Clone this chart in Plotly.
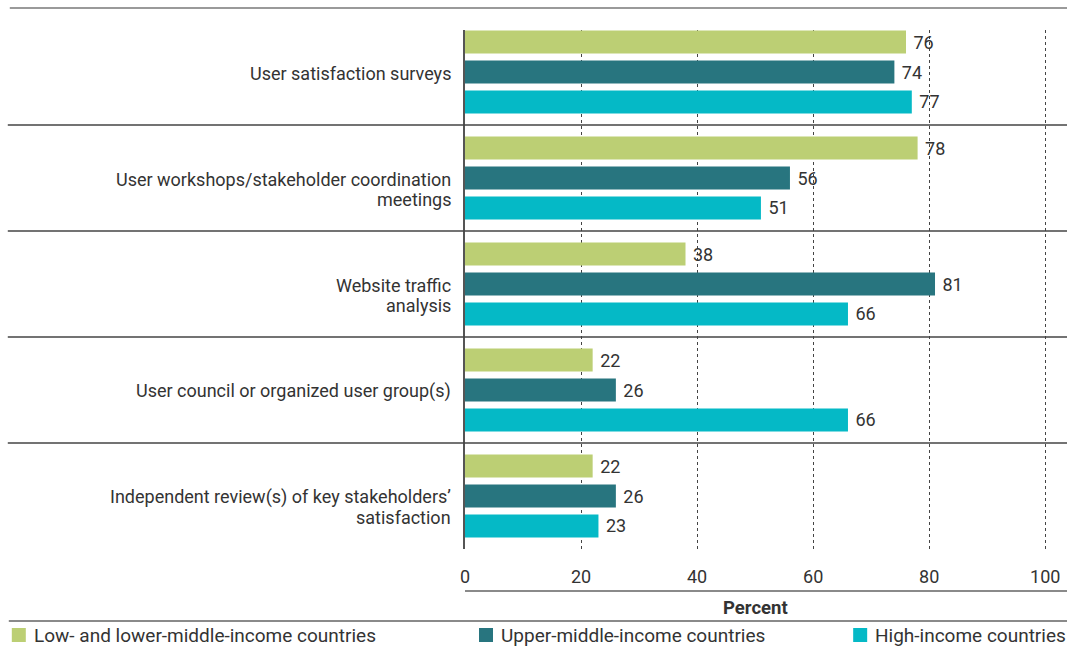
import plotly.graph_objects as go

# Survey answers: methods used to gauge user satisfaction (percent of respondents)
categories = [
    "User satisfaction surveys",
    "User workshops/stakeholder coordination<br>meetings",
    "Website traffic<br>analysis",
    "User council or organized user group(s)",
    "Independent review(s) of key stakeholders’<br>satisfaction",
]
series_names = [
    "Low- and lower-middle-income countries",
    "Upper-middle-income countries",
    "High-income countries",
]
low_lower_middle = [76, 78, 38, 22, 22]
upper_middle = [74, 56, 81, 26, 26]
high_income = [77, 51, 66, 66, 23]
x_ticks = [0, 20, 40, 60, 80, 100]

colors = ["#BCCF74", "#28757F", "#05B9C6"]
values = [low_lower_middle, upper_middle, high_income]
FONT = "Roboto"
TXT = "#333333"

fig = go.Figure()
for name, vals, col in zip(series_names, values, colors):
    fig.add_trace(go.Bar(
        y=categories, x=vals, name=name, orientation="h",
        marker=dict(color=col, line=dict(width=0)),
        text=["\u00a0" + str(v) for v in vals], textposition="outside",
        textfont=dict(family=FONT, size=18, color=TXT),
        cliponaxis=False, showlegend=False,
    ))

W, H = 1067, 646
X_MAX = 100.3
L, T, B = 465, 30, 97
pw = 580 * X_MAX / 100
R = W - L - pw
ph = H - T - B

def px_x(p):
    return (p - L) / pw

def px_y(p):
    return (H - B - p) / ph

shapes = []
# top rule
shapes.append(dict(type="line", xref="paper", yref="paper",
                   x0=px_x(10), x1=px_x(1067), y0=px_y(8), y1=px_y(8),
                   line=dict(color="#9a9a9a", width=2)))
# separators between groups
for k in range(len(categories) - 1):
    shapes.append(dict(type="line", xref="paper", yref="y",
                       x0=px_x(8), x1=px_x(1067), y0=k + 0.5, y1=k + 0.5,
                       line=dict(color="#444444", width=1.5)))
# rule under tick labels
shapes.append(dict(type="line", xref="paper", yref="paper",
                   x0=px_x(465), x1=px_x(1067), y0=px_y(591), y1=px_y(591),
                   line=dict(color="#8a8a8a", width=2)))
# rule above legend
shapes.append(dict(type="line", xref="paper", yref="paper",
                   x0=px_x(9), x1=px_x(1067), y0=px_y(621), y1=px_y(621),
                   line=dict(color="#8a8a8a", width=2)))

annotations = [dict(text="<b>Percent</b>", xref="paper", yref="paper",
                    x=px_x(755), y=px_y(608), showarrow=False,
                    font=dict(family=FONT, size=18.5, color=TXT),
                    xanchor="center", yanchor="middle")]

# category labels: first line level with the group centre, following lines below
for i, cat in enumerate(categories):
    for j, line in enumerate(cat.split("<br>")):
        annotations.append(dict(text=line, xref="paper", yref="y",
                                x=px_x(453), y=i, yshift=-1 - 20 * j,
                                showarrow=False, xanchor="right", yanchor="middle",
                                font=dict(family=FONT, size=18, color=TXT)))

# legend drawn as swatches with labels
legend_x = [12, 479, 853]
for name, col, lx in zip(series_names, colors, legend_x):
    shapes.append(dict(type="rect", xref="paper", yref="paper",
                       x0=px_x(lx), x1=px_x(lx + 14),
                       y0=px_y(642), y1=px_y(628),
                       fillcolor=col, line=dict(width=0)))
    annotations.append(dict(text=name, xref="paper", yref="paper",
                            x=px_x(lx + 20), y=px_y(635), showarrow=False,
                            xanchor="left", yanchor="middle",
                            font=dict(family=FONT, size=19, color=TXT)))

fig.update_layout(
    width=W, height=H,
    margin=dict(l=L, r=R, t=T, b=B, pad=0, autoexpand=False),
    plot_bgcolor="white", paper_bgcolor="white",
    barmode="group", bargap=0.151, bargroupgap=0.233,
    font=dict(family=FONT, size=18, color=TXT),
    shapes=shapes, annotations=annotations,
    showlegend=False,
    xaxis=dict(range=[0, X_MAX], tickvals=x_ticks, ticktext=[str(t) for t in x_ticks],
               showgrid=True, gridcolor="#444444", griddash="dot", gridwidth=1,
               zeroline=False, showline=False, ticks="", automargin=False,
               ticklabelstandoff=15,
               tickfont=dict(family=FONT, size=18, color=TXT)),
    yaxis=dict(range=[4.5, 4.5 - ph / 106], showline=True, linecolor="#555555",
               linewidth=2, ticks="", showgrid=False, zeroline=False,
               automargin=False, showticklabels=False),
)

fig.write_html("out.html")
